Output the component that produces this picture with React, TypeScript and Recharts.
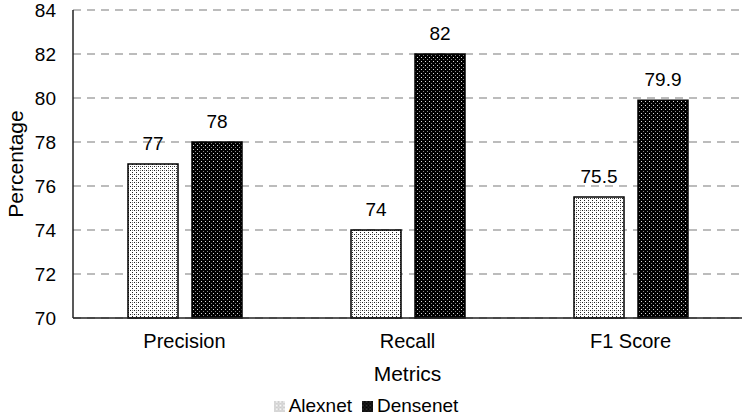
import React from 'react';
import { BarChart, Bar, XAxis, YAxis, CartesianGrid, Legend, LabelList } from 'recharts';

const metrics = ['Precision', 'Recall', 'F1 Score'];
const alexnet = [77, 74, 75.5];
const densenet = [78, 82, 79.9];
const yTicks = [70, 72, 74, 76, 78, 80, 82, 84];

const data = metrics.map((m, i) => ({ metric: m, Alexnet: alexnet[i], Densenet: densenet[i] }));

const font = 'Liberation Sans, Arial, sans-serif';

export default function App() {
  return (
    <div style={{ position: 'absolute', left: 0, top: 0, background: '#fff', fontFamily: font }}>
      <BarChart
        width={750}
        height={417}
        data={data}
        margin={{ top: 10, right: 8, bottom: 0, left: 0 }}
        barGap={14}
        barCategoryGap={54}
      >
        <defs>
          <pattern id="alex" width="4" height="4" patternUnits="userSpaceOnUse">
            <rect width="4" height="4" fill="#fff" />
            <rect x="0" y="0" width="1" height="1" fill="#222" />
            <rect x="2" y="2" width="1" height="1" fill="#222" />
            <rect x="0" y="2" width="1" height="1" fill="#777" />
          </pattern>
          <pattern id="dense" width="4" height="4" patternUnits="userSpaceOnUse">
            <rect width="4" height="4" fill="#000" />
            <rect x="1" y="1" width="1" height="1" fill="#ddd" />
            <rect x="3" y="3" width="1" height="1" fill="#888" />
          </pattern>
        </defs>
        <CartesianGrid vertical={false} stroke="#a6a6a6" strokeDasharray="8 6" strokeWidth={1.5} />
        <XAxis
          dataKey="metric"
          axisLine={{ stroke: '#222', strokeWidth: 1.5 }}
          tickLine={false}
          tickSize={0}
          tickMargin={16}
          tick={{ fill: '#000', fontSize: 20, fontFamily: font }}
          height={76}
          label={{ value: 'Metrics', position: 'insideBottom', offset: 13, fill: '#000', fontSize: 21, fontFamily: font }}
        />
        <YAxis
          domain={[70, 84]}
          ticks={yTicks}
          interval={0}
          axisLine={{ stroke: '#222', strokeWidth: 1.5 }}
          tickLine={false}
          tickSize={0}
          tickMargin={17}
          width={73}
          tick={{ fill: '#000', fontSize: 19, fontFamily: font }}
          label={{ value: 'Percentage', angle: -90, position: 'insideLeft', offset: 16, fill: '#000', fontSize: 21, fontFamily: font, style: { textAnchor: 'middle' } }}
        />
        <Legend
          verticalAlign="bottom"
          iconType="square"
          iconSize={11}
          wrapperStyle={{ fontSize: 19, fontFamily: font, color: '#000', bottom: 0, lineHeight: '23px' }}
          formatter={(v) => <span style={{ color: '#000' }}>{v}</span>}
        />
        <Bar dataKey="Alexnet" fill="url(#alex)" stroke="#000" strokeWidth={1.5} barSize={50} isAnimationActive={false}>
          <LabelList dataKey="Alexnet" position="top" offset={14} fill="#000" fontSize={19} fontFamily={font} />
        </Bar>
        <Bar dataKey="Densenet" fill="url(#dense)" stroke="#000" strokeWidth={1.5} barSize={50} isAnimationActive={false}>
          <LabelList dataKey="Densenet" position="top" offset={14} fill="#000" fontSize={19} fontFamily={font} />
        </Bar>
      </BarChart>
    </div>
  );
}
